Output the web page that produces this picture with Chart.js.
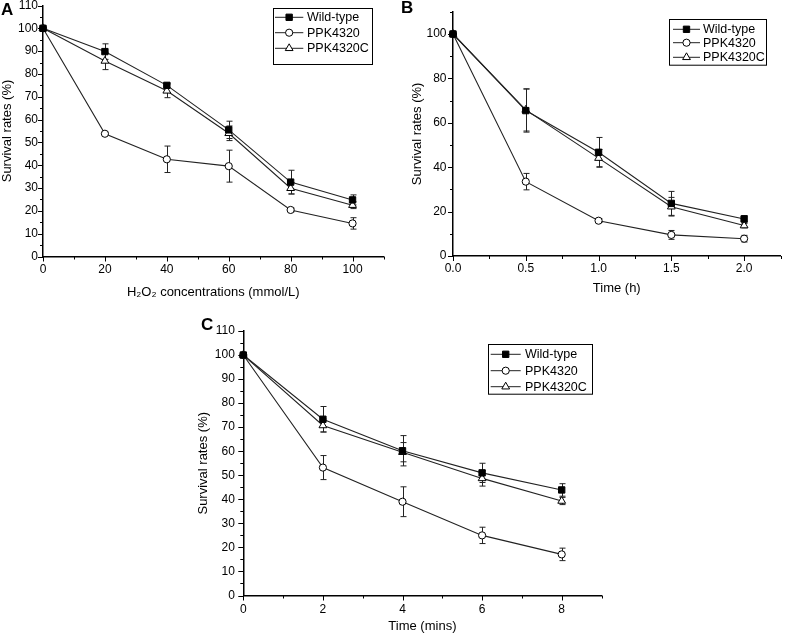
<!DOCTYPE html>
<html lang="en">
<head>
<meta charset="UTF-8">
<title>Survival rates</title>
<style>
  * { box-sizing: border-box; margin: 0; padding: 0; }
  body { width: 786px; height: 635px; background: #fff; position: relative; overflow: hidden;
         font-family: "Liberation Sans", Arial, sans-serif; }
  canvas { position: absolute; }
  .tag { position: absolute; font-weight: bold; font-size: 17px; line-height: 17px; color: #000; }
</style>
</head>
<body>

<canvas id="chartA" width="393" height="300" style="left:0;top:0;width:393px;height:300px"></canvas>
<canvas id="chartB" width="393" height="300" style="left:393px;top:0;width:393px;height:300px"></canvas>
<canvas id="chartC" width="430" height="325" style="left:180px;top:310px;width:430px;height:325px"></canvas>
<div class="tag" style="left:1px;top:1px">A</div>
<div class="tag" style="left:401px;top:-1px">B</div>
<div class="tag" style="left:201px;top:316px">C</div>

<script src="https://cdn.jsdelivr.net/npm/chart.js"></script>
<script>
    // panel A - H2O2
    const xA = [0, 20, 40, 60, 80, 100];
    const wildA = [100, 89.8, 75.0, 55.5, 32.6, 24.8];
    const wildErrA = [0, 3.4, 1.0, 3.8, 5.2, 2.2];
    const ppkA = [100, 53.8, 42.6, 39.6, 20.4, 14.5];
    const ppkErrA = [0, 0.6, 5.8, 7.0, 0.8, 2.5];
    const ppkcA = [100, 85.7, 72.6, 54.0, 29.9, 22.5];
    const ppkcErrA = [0, 3.8, 3.0, 3.2, 2.5, 1.5];
    const xTicksA = [0, 20, 40, 60, 80, 100];
    const xMinorA = [10, 30, 50, 70, 90, 110];
    const yTicksA = [0, 10, 20, 30, 40, 50, 60, 70, 80, 90, 100, 110];
    const yMinorA = [5, 15, 25, 35, 45, 55, 65, 75, 85, 95, 105];

    // panel B - time (h)
    const xB = [0, 0.5, 1.0, 1.5, 2.0];
    const wildB = [100, 65.5, 46.7, 23.7, 16.7];
    const wildErrB = [0, 9.7, 6.7, 5.4, 1.5];
    const ppkB = [100, 33.5, 15.9, 9.5, 7.8];
    const ppkErrB = [0, 3.7, 0.8, 2.0, 1.5];
    const ppkcB = [100, 65.8, 44.1, 22.2, 13.7];
    const ppkcErrB = [0, 9.5, 3.9, 4.2, 1.0];
    const xTicksB = [0, 0.5, 1.0, 1.5, 2.0];
    const xMinorB = [0.25, 0.75, 1.25, 1.75, 2.25];
    const yTicksB = [0, 20, 40, 60, 80, 100];
    const yMinorB = [10, 30, 50, 70, 90, 110];

    // panel C - time (mins)
    const xC = [0, 2, 4, 6, 8];
    const wildC = [100, 73.3, 60.2, 51.0, 43.9];
    const wildErrC = [0, 5.3, 6.3, 4.0, 2.6];
    const ppkC = [100, 53.2, 39.0, 25.0, 17.1];
    const ppkErrC = [0, 5.0, 6.2, 3.4, 2.6];
    const ppkcC = [100, 70.7, 59.6, 48.7, 39.3];
    const ppkcErrC = [0, 2.7, 4.0, 3.2, 1.5];
    const xTicksC = [0, 2, 4, 6, 8];
    const xMinorC = [1, 3, 5, 7, 9];
    const yTicksC = [0, 10, 20, 30, 40, 50, 60, 70, 80, 90, 100, 110];
    const yMinorC = [5, 15, 25, 35, 45, 55, 65, 75, 85, 95, 105];

    const seriesNames = ["Wild-type", "PPK4320", "PPK4320C"];

    Chart.defaults.font.family = '"Liberation Sans", Arial, sans-serif';
    Chart.defaults.color = "#000";

    const markers = [
        { style: "rect", radius: 4.5, fill: "#000" },
        { style: "circle", radius: 3.6, fill: "#fff" },
        { style: "triangle", radius: 4.5, fill: "#fff" }
    ];

    function drawMarker(ctx, m, x, y) {
        ctx.save();
        ctx.fillStyle = m.fill;
        ctx.strokeStyle = "#000";
        ctx.lineWidth = 1;
        ctx.beginPath();
        if (m.style === "rect") {
            const s = m.radius * Math.SQRT1_2;
            ctx.rect(x - s, y - s, 2 * s, 2 * s);
        } else if (m.style === "circle") {
            ctx.arc(x, y, m.radius, 0, Math.PI * 2);
        } else {
            for (let k = 0; k < 3; k++) {
                const a = k * Math.PI * 2 / 3;
                const px = x + Math.sin(a) * m.radius, py = y - Math.cos(a) * m.radius;
                if (k === 0) ctx.moveTo(px, py); else ctx.lineTo(px, py);
            }
            ctx.closePath();
        }
        ctx.fill();
        ctx.stroke();
        ctx.restore();
    }

    // error bars, drawn under the markers
    const errorBars = {
        id: "errorBars",
        beforeDatasetsDraw(chart) {
            const ctx = chart.ctx, ys = chart.scales.y;
            ctx.save();
            ctx.strokeStyle = "#222";
            ctx.lineWidth = 1;
            chart.data.datasets.forEach((ds, di) => {
                const meta = chart.getDatasetMeta(di);
                ds.errors.forEach((e, i) => {
                    if (!e) return;
                    const v = ds.data[i].y;
                    const x = Math.round(meta.data[i].x) + 0.5;
                    const top = ys.getPixelForValue(v + e);
                    const bot = ys.getPixelForValue(v - e);
                    ctx.beginPath();
                    ctx.moveTo(x, top); ctx.lineTo(x, bot);
                    ctx.moveTo(x - 3, top); ctx.lineTo(x + 3, top);
                    ctx.moveTo(x - 3, bot); ctx.lineTo(x + 3, bot);
                    ctx.stroke();
                });
            });
            ctx.restore();
        }
    };

    // major and minor tick marks, pointing out of the plot
    const tickMarks = {
        id: "tickMarks",
        afterDraw(chart, args, opts) {
            const ctx = chart.ctx;
            ctx.save();
            ctx.strokeStyle = "#000";
            ctx.lineWidth = 1;
            const mark = (scale, vals, len) => {
                vals.forEach(v => {
                    const p = Math.round(scale.getPixelForValue(v)) + 0.5;
                    ctx.beginPath();
                    if (scale.isHorizontal()) {
                        ctx.moveTo(p, scale.top); ctx.lineTo(p, scale.top + len);
                    } else {
                        ctx.moveTo(scale.right, p); ctx.lineTo(scale.right - len, p);
                    }
                    ctx.stroke();
                });
            };
            mark(chart.scales.x, opts.xMajor, 5);
            mark(chart.scales.x, opts.xMinor, 3);
            mark(chart.scales.y, opts.yMajor, 5);
            mark(chart.scales.y, opts.yMinor, 3);
            ctx.restore();
        }
    };

    // boxed legend with line + marker samples
    const boxLegend = {
        id: "boxLegend",
        afterDraw(chart, args, opts) {
            const ctx = chart.ctx;
            const [bx, by, bw, bh] = opts.box;
            ctx.save();
            ctx.strokeStyle = "#000";
            ctx.lineWidth = 1;
            ctx.strokeRect(Math.round(bx) + 0.5, Math.round(by) + 0.5, bw, bh);
            ctx.font = '12.5px "Liberation Sans", Arial, sans-serif';
            ctx.fillStyle = "#000";
            ctx.textBaseline = "middle";
            seriesNames.forEach((name, i) => {
                const y = opts.rows[i];
                ctx.strokeStyle = "#222";
                ctx.beginPath();
                ctx.moveTo(opts.line[0], y); ctx.lineTo(opts.line[1], y);
                ctx.stroke();
                drawMarker(ctx, markers[i], (opts.line[0] + opts.line[1]) / 2, y);
                ctx.fillText(name, opts.textX, y + 0.5);
            });
            ctx.restore();
        }
    };

    function makePanel(id, p) {
        const ys = [p.wild, p.ppk, p.ppkc];
        const errs = [p.wildErr, p.ppkErr, p.ppkcErr];
        const datasets = seriesNames.map((name, i) => ({
            label: name,
            data: p.x.map((x, j) => ({ x: x, y: ys[i][j] })),
            errors: errs[i],
            borderColor: "#222",
            borderWidth: 1.1,
            pointStyle: markers[i].style,
            pointRadius: markers[i].radius,
            pointBackgroundColor: markers[i].fill,
            pointBorderColor: "#000",
            pointBorderWidth: 1,
            tension: 0,
            clip: false
        }));

        const fixSize = (size) => (scale) => {
            if (scale.isHorizontal()) scale.height = size; else scale.width = size;
            scale.paddingTop = 0; scale.paddingBottom = 0;
            scale.paddingLeft = 0; scale.paddingRight = 0;
        };

        new Chart(document.getElementById(id), {
            type: "line",
            data: { datasets: datasets },
            options: {
                responsive: false,
                animation: false,
                events: [],
                layout: { padding: { left: 0, top: p.padTop, right: p.padRight, bottom: 0 } },
                plugins: {
                    legend: { display: false },
                    tooltip: { enabled: false },
                    tickMarks: { xMajor: p.xTicks, xMinor: p.xMinor, yMajor: p.yTicks, yMinor: p.yMinor },
                    boxLegend: p.legend
                },
                scales: {
                    x: {
                        type: "linear",
                        min: 0,
                        max: p.xMax,
                        afterBuildTicks: (s) => { s.ticks = p.xTicks.map(v => ({ value: v })); },
                        afterFit: fixSize(p.xHeight),
                        grid: { display: true, drawOnChartArea: false, drawTicks: false },
                        border: { color: "#000", width: 1.5 },
                        ticks: {
                            font: { size: 12 },
                            padding: p.xPad,
                            maxRotation: 0,
                            autoSkip: false,
                            callback: p.xFormat
                        },
                        title: {
                            display: true,
                            text: p.xTitle,
                            font: { size: 13 },
                            padding: { top: 0, bottom: p.xTitlePad }
                        }
                    },
                    y: {
                        type: "linear",
                        min: 0,
                        max: 110,
                        afterBuildTicks: (s) => { s.ticks = p.yTicks.map(v => ({ value: v })); },
                        afterFit: fixSize(p.yWidth),
                        grid: { display: true, drawOnChartArea: false, drawTicks: false },
                        border: { color: "#000", width: 1.5 },
                        ticks: { font: { size: 12 }, padding: p.yPad, autoSkip: false },
                        title: {
                            display: true,
                            text: "Survival rates (%)",
                            font: { size: 13 },
                            padding: { top: p.yTitlePad, bottom: 0 }
                        }
                    }
                }
            },
            plugins: [errorBars, tickMarks, boxLegend]
        });
    }

    makePanel("chartA", {
        x: xA, wild: wildA, wildErr: wildErrA, ppk: ppkA, ppkErr: ppkErrA, ppkc: ppkcA, ppkcErr: ppkcErrA,
        xTicks: xTicksA, xMinor: xMinorA, yTicks: yTicksA, yMinor: yMinorA,
        xMax: 110, xTitle: "H\u2082O\u2082 concentrations (mmol/L)",
        xFormat: (v) => String(v),
        padTop: 5.2, padRight: 9.5, xHeight: 43.5, yWidth: 43,
        xPad: 6, yPad: 5, xTitlePad: 0, yTitlePad: 0,
        legend: { box: [272.7, 8.3, 99, 56], rows: [17.3, 32.7, 48.3], line: [275, 303.3], textX: 307 }
    });

    makePanel("chartB", {
        x: xB, wild: wildB, wildErr: wildErrB, ppk: ppkB, ppkErr: ppkErrB, ppkc: ppkcB, ppkcErr: ppkcErrB,
        xTicks: xTicksB, xMinor: xMinorB, yTicks: yTicksB, yMinor: yMinorB,
        xMax: 2.25, xTitle: "Time (h)",
        xFormat: (v) => Number(v).toFixed(1),
        padTop: 11.8, padRight: 1.6, xHeight: 44, yWidth: 60,
        xPad: 5, yPad: 6.5, xTitlePad: 4, yTitlePad: 16.5,
        legend: { box: [276.3, 19.3, 97, 45.7], rows: [29.3, 42.7, 57.3], line: [280, 307], textX: 310 }
    });

    makePanel("chartC", {
        x: xC, wild: wildC, wildErr: wildErrC, ppk: ppkC, ppkErr: ppkErrC, ppkc: ppkcC, ppkcErr: ppkcErrC,
        xTicks: xTicksC, xMinor: xMinorC, yTicks: yTicksC, yMinor: yMinorC,
        xMax: 9, xTitle: "Time (mins)",
        xFormat: (v) => String(v),
        padTop: 21, padRight: 8.5, xHeight: 39.5, yWidth: 63.3,
        xPad: 7, yPad: 8.5, xTitlePad: 0.5, yTitlePad: 16,
        legend: { box: [307.7, 34.3, 104, 49.7], rows: [44.3, 60.7, 76.7], line: [310.7, 340.7], textX: 345 }
    });
</script>

</body>
</html>
